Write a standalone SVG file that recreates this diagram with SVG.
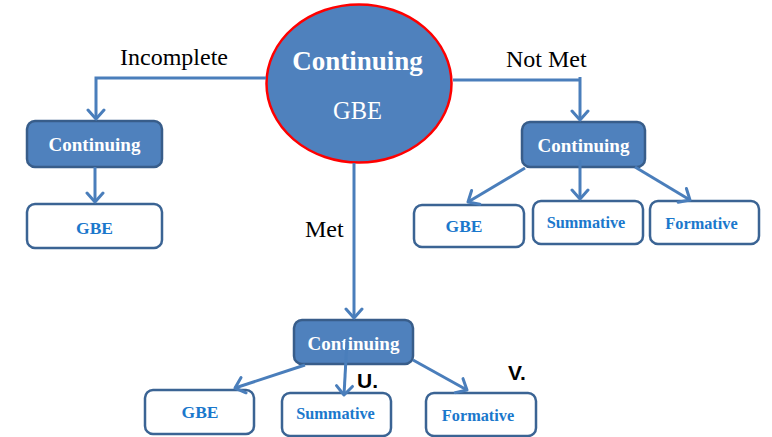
<svg xmlns="http://www.w3.org/2000/svg" width="772" height="437" viewBox="0 0 772 437">
<style>
.bg{fill:#ffffff}
.filled{fill:#4f81bd;stroke:#385d8a;stroke-width:2.5}
.outline{fill:#ffffff;stroke:#3b6494;stroke-width:2.5}
.wt{font-family:"Liberation Serif","Times New Roman",serif;font-weight:bold;fill:#ffffff;text-anchor:middle}
.bt{font-family:"Liberation Serif","Times New Roman",serif;font-weight:bold;fill:#1b78cc;text-anchor:middle}
.lbl{font-family:"Liberation Serif","Times New Roman",serif;fill:#000000;font-size:24px}
.mk{font-family:"Liberation Sans",Arial,sans-serif;font-weight:bold;fill:#000000;font-size:21px}
.con{fill:none;stroke:#4a7ebb;stroke-width:3}
</style>
<defs>
<marker id="arr" markerUnits="userSpaceOnUse" viewBox="-12 -10 14 20" markerWidth="14" markerHeight="20" refX="0" refY="0" orient="auto">
<path d="M-9,-8 L0,0 L-9,8" fill="none" stroke="#4a7ebb" stroke-width="3" stroke-linejoin="round" stroke-linecap="round"/>
</marker>
</defs>
<rect class="bg" x="0" y="0" width="772" height="437"/>

<g id="root">
<ellipse cx="359" cy="83.5" rx="92.5" ry="79" fill="#4f81bd" stroke="#ff0000" stroke-width="2.5"/>
<text class="wt" x="357.5" y="70" font-size="27">Continuing</text>
<text x="357.5" y="119" font-family="Liberation Serif,'Times New Roman',serif" font-size="24.5" fill="#ffffff" text-anchor="middle">GBE</text>
</g>

<g id="left-continuing">
<rect class="filled" x="27" y="121" width="135" height="46" rx="8"/>
<text class="wt" x="94.5" y="151" font-size="19">Continuing</text>
</g>
<g id="left-gbe">
<rect class="outline" x="27" y="204" width="135" height="44" rx="8"/>
<text class="bt" x="94.5" y="234" font-size="17.5">GBE</text>
</g>

<g id="right-continuing">
<rect class="filled" x="522" y="122" width="123" height="45" rx="8"/>
<text class="wt" x="583.5" y="152" font-size="19">Continuing</text>
</g>
<g id="right-gbe">
<rect class="outline" x="414" y="205" width="110" height="42" rx="8"/>
<text class="bt" x="464" y="232" font-size="17.5">GBE</text>
</g>
<g id="right-summative">
<rect class="outline" x="533" y="201" width="110" height="43" rx="8"/>
<text class="bt" x="586" y="228" font-size="16.3">Summative</text>
</g>
<g id="right-formative">
<rect class="outline" x="650" y="201" width="109" height="43" rx="8"/>
<text class="bt" x="701.5" y="229" font-size="16.3">Formative</text>
</g>

<g id="bottom-continuing">
<rect class="filled" x="294" y="320" width="119" height="44" rx="8"/>
<text class="wt" x="353.5" y="349.5" font-size="19">Continuing</text>
</g>
<g id="bottom-gbe">
<rect class="outline" x="145" y="390" width="109" height="44" rx="8"/>
<text class="bt" x="200" y="418" font-size="17.5">GBE</text>
</g>
<g id="bottom-summative">
<rect class="outline" x="282" y="393" width="109" height="43" rx="8"/>
<text class="bt" x="335.5" y="419" font-size="16.3">Summative</text>
</g>
<g id="bottom-formative">
<rect class="outline" x="426" y="393" width="110" height="43" rx="8"/>
<text class="bt" x="478" y="421" font-size="16.3">Formative</text>
</g>

<g id="connectors">
<path class="con" d="M266,78 L96,78 L96,119" marker-end="url(#arr)"/>
<path class="con" d="M95,167 L95,202" marker-end="url(#arr)"/>
<path class="con" d="M453,80 L581,80"/>
<path class="con" d="M580,77 L580,120" marker-end="url(#arr)"/>
<path class="con" d="M525,168 L468,202" marker-end="url(#arr)"/>
<path class="con" d="M580,160 L580,199" marker-end="url(#arr)"/>
<path class="con" d="M635,167 L690,200" stroke-width="4" marker-end="url(#arr)"/>
<path class="con" d="M354,163 L354,318" marker-end="url(#arr)"/>
<path class="con" d="M305,365 L235,388" marker-end="url(#arr)"/>
<path class="con" d="M347,340 L344,395" marker-end="url(#arr)"/>
<path class="con" d="M413,360 L467,390" stroke-width="4" marker-end="url(#arr)"/>
</g>

<g id="labels">
<text class="lbl" x="120" y="65">Incomplete</text>
<text class="lbl" x="506" y="67">Not Met</text>
<text class="lbl" x="305" y="237">Met</text>
<text class="mk" x="357" y="388">U.</text>
<text class="mk" x="508" y="380">V.</text>
</g>
</svg>
